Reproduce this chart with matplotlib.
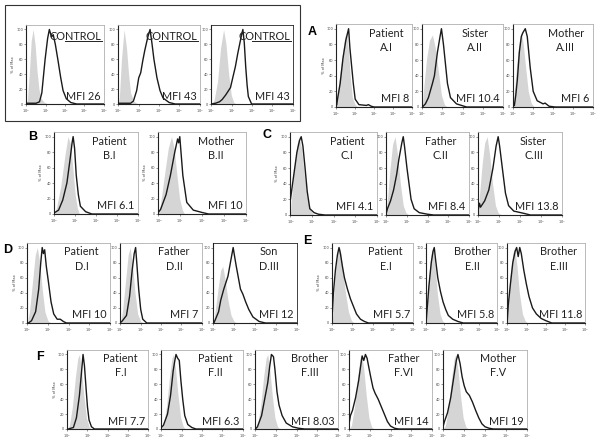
import matplotlib
matplotlib.use("Agg")
import matplotlib.pyplot as plt
from matplotlib.patches import Rectangle
from matplotlib.lines import Line2D
import numpy as np

W, H = 600, 443

# ---------------- data: (log10 fluorescence, % of max) vertices ----------------
ctrl1_iso = [(0, 0), (0.05, 5), (0.15, 40), (0.25, 85), (0.35, 100), (0.45, 80), (0.55, 45), (0.65, 20), (0.75, 8), (0.9, 3), (1.1, 0)]
ctrl1_cell = [(0, 1), (0.5, 1), (0.68, 3), (0.8, 15), (0.97, 60), (1.1, 88), (1.19, 100), (1.3, 90), (1.39, 93), (1.5, 80), (1.64, 58), (1.78, 35), (1.9, 18), (2.07, 7), (2.3, 2), (2.6, 0), (4, 0)]
ctrl2_iso = [(0, 0), (0.05, 10), (0.15, 60), (0.28, 100), (0.4, 75), (0.5, 40), (0.6, 15), (0.75, 4), (0.95, 0)]
ctrl2_cell = [(0, 1), (0.6, 1), (0.74, 4), (0.9, 18), (1.0, 35), (1.1, 42), (1.2, 58), (1.3, 72), (1.45, 90), (1.56, 100), (1.65, 82), (1.75, 60), (1.9, 35), (2.05, 18), (2.2, 8), (2.5, 2), (2.8, 0), (4, 0)]
ctrl3_iso = [(0, 0), (0.13, 5), (0.3, 30), (0.45, 75), (0.6, 100), (0.72, 80), (0.85, 40), (0.98, 12), (1.1, 2), (1.25, 0)]
ctrl3_cell = [(0, 0), (0.2, 1), (0.4, 3), (0.53, 6), (0.7, 12), (0.94, 22), (1.05, 35), (1.18, 50), (1.3, 68), (1.39, 80), (1.48, 92), (1.55, 100), (1.62, 82), (1.69, 50), (1.76, 25), (1.82, 10), (1.98, 0), (4, 0)]

A1_iso = [(0, 0), (0.05, 15), (0.15, 35), (0.3, 65), (0.45, 90), (0.55, 95), (0.65, 70), (0.75, 35), (0.85, 12), (1.0, 3), (1.15, 0)]
A1_cell = [(0.02, 3), (0.06, 10), (0.2, 30), (0.35, 62), (0.5, 85), (0.65, 100), (0.72, 75), (0.8, 55), (0.9, 30), (1.0, 10), (1.2, 3), (1.6, 2), (1.7, 3), (1.85, 1), (2.0, 0), (4, 0)]
A2_iso = [(0, 0), (0.05, 20), (0.2, 60), (0.35, 85), (0.5, 92), (0.65, 75), (0.8, 45), (0.95, 15), (1.1, 3), (1.25, 0)]
A2_cell = [(0, 0), (0.15, 4), (0.3, 12), (0.5, 30), (0.6, 40), (0.75, 70), (0.88, 90), (0.95, 100), (1.05, 80), (1.15, 55), (1.25, 30), (1.4, 12), (1.7, 4), (2.2, 0), (4, 0)]
A3_iso = [(0, 0), (0.05, 20), (0.15, 50), (0.3, 85), (0.4, 95), (0.5, 80), (0.62, 50), (0.75, 20), (0.9, 5), (1.05, 0)]
A3_cell = [(0.05, 2), (0.12, 15), (0.2, 35), (0.3, 70), (0.4, 90), (0.48, 95), (0.6, 100), (0.7, 90), (0.85, 50), (1.0, 20), (1.2, 8), (1.5, 4), (1.6, 5), (1.8, 1), (2.1, 0), (4, 0)]

B1_iso = [(0, 0), (0.1, 8), (0.3, 35), (0.5, 75), (0.65, 100), (0.78, 90), (0.9, 55), (1.0, 25), (1.1, 8), (1.2, 0)]
B1_cell = [(0.02, 2), (0.2, 5), (0.4, 18), (0.6, 40), (0.75, 70), (0.85, 92), (0.9, 100), (0.97, 85), (1.05, 50), (1.15, 25), (1.25, 10), (1.5, 3), (1.8, 0), (4, 0)]
B2_iso = [(0, 0), (0.08, 10), (0.25, 45), (0.45, 85), (0.6, 100), (0.72, 85), (0.85, 50), (0.97, 20), (1.1, 5), (1.2, 0)]
B2_cell = [(0.02, 3), (0.1, 6), (0.35, 25), (0.55, 50), (0.75, 80), (0.88, 97), (0.93, 92), (0.98, 100), (1.05, 75), (1.12, 50), (1.3, 15), (1.6, 5), (2.0, 2), (2.3, 0), (4, 0)]

C1_iso = [(0, 0), (0.05, 20), (0.15, 55), (0.3, 90), (0.4, 100), (0.52, 85), (0.65, 50), (0.8, 20), (0.95, 5), (1.1, 0)]
C1_cell = [(0.0, 20), (0.1, 40), (0.2, 60), (0.3, 80), (0.42, 95), (0.5, 100), (0.58, 88), (0.68, 60), (0.78, 30), (0.9, 8), (1.1, 3), (1.3, 1), (1.6, 0), (4, 0)]
C2_iso = [(0, 0), (0.05, 20), (0.18, 60), (0.3, 90), (0.42, 100), (0.55, 75), (0.68, 40), (0.82, 12), (0.95, 3), (1.1, 0)]
C2_cell = [(0.0, 3), (0.05, 8), (0.2, 18), (0.35, 32), (0.5, 52), (0.6, 70), (0.75, 92), (0.82, 100), (0.88, 88), (1.0, 60), (1.1, 40), (1.2, 20), (1.35, 8), (1.6, 3), (2.0, 1), (2.3, 0), (4, 0)]
C3_iso = [(0, 0), (0.05, 25), (0.18, 65), (0.3, 92), (0.42, 100), (0.55, 75), (0.68, 40), (0.82, 12), (0.95, 3), (1.1, 0)]
C3_cell = [(0.0, 8), (0.05, 15), (0.1, 10), (0.3, 18), (0.5, 32), (0.7, 60), (0.85, 88), (0.95, 100), (1.02, 88), (1.15, 60), (1.3, 28), (1.45, 12), (1.7, 5), (2.2, 2), (2.5, 0), (4, 0)]

D1_iso = [(0, 0), (0.1, 15), (0.25, 55), (0.38, 90), (0.48, 100), (0.6, 80), (0.72, 45), (0.85, 15), (1.0, 3), (1.15, 0)]
D1_cell = [(0.05, 0), (0.2, 3), (0.4, 15), (0.55, 45), (0.65, 80), (0.72, 100), (0.78, 92), (0.84, 97), (0.92, 75), (1.02, 55), (1.15, 28), (1.28, 12), (1.45, 5), (1.6, 5), (1.75, 2), (1.9, 0), (4, 0)]
D2_iso = [(0, 0), (0.1, 15), (0.25, 55), (0.38, 90), (0.48, 100), (0.6, 75), (0.72, 40), (0.85, 12), (1.0, 2), (1.15, 0)]
D2_cell = [(0.02, 1), (0.1, 3), (0.3, 10), (0.45, 35), (0.58, 70), (0.68, 92), (0.75, 100), (0.82, 75), (0.9, 45), (1.0, 18), (1.1, 5), (1.3, 0), (4, 0)]
D3_iso = [(0, 0), (0.08, 15), (0.22, 45), (0.35, 70), (0.45, 75), (0.58, 55), (0.7, 30), (0.85, 10), (1.0, 2), (1.15, 0)]
D3_cell = [(0.02, 0), (0.1, 5), (0.25, 15), (0.35, 30), (0.5, 45), (0.7, 62), (0.85, 85), (0.95, 100), (1.02, 88), (1.1, 75), (1.2, 60), (1.3, 45), (1.42, 38), (1.55, 28), (1.7, 18), (1.9, 8), (2.2, 2), (2.5, 0), (4, 0)]

E1_iso = [(0, 0), (0.05, 30), (0.15, 70), (0.28, 95), (0.38, 100), (0.5, 75), (0.65, 40), (0.8, 15), (0.95, 3), (1.1, 0)]
E1_cell = [(0.0, 15), (0.05, 40), (0.15, 70), (0.25, 90), (0.33, 100), (0.4, 92), (0.5, 75), (0.6, 60), (0.75, 45), (0.9, 32), (1.05, 22), (1.2, 12), (1.4, 5), (1.6, 2), (1.8, 0), (4, 0)]
E2_iso = [(0, 0), (0.05, 25), (0.15, 65), (0.28, 92), (0.38, 100), (0.5, 75), (0.62, 40), (0.78, 12), (0.92, 3), (1.05, 0)]
E2_cell = [(0.0, 5), (0.05, 20), (0.15, 50), (0.28, 80), (0.38, 95), (0.45, 100), (0.52, 85), (0.65, 60), (0.8, 42), (0.95, 28), (1.1, 18), (1.25, 10), (1.5, 5), (1.8, 2), (2.1, 0), (4, 0)]
E3_iso = [(0, 0), (0.05, 25), (0.15, 65), (0.28, 92), (0.38, 100), (0.5, 75), (0.62, 40), (0.78, 12), (0.92, 3), (1.05, 0)]
E3_cell = [(0.0, 5), (0.05, 25), (0.15, 50), (0.28, 80), (0.4, 95), (0.48, 100), (0.56, 88), (0.64, 100), (0.72, 92), (0.85, 70), (0.98, 52), (1.12, 35), (1.3, 20), (1.5, 12), (1.75, 6), (2.0, 3), (2.3, 0), (4, 0)]

F1_iso = [(0, 0), (0.1, 5), (0.25, 30), (0.4, 70), (0.52, 95), (0.6, 100), (0.7, 80), (0.82, 45), (0.95, 15), (1.08, 3), (1.2, 0)]
F1_cell = [(0.05, 0), (0.3, 2), (0.45, 15), (0.6, 45), (0.7, 75), (0.78, 100), (0.85, 85), (0.93, 55), (1.0, 30), (1.08, 12), (1.2, 3), (1.35, 0), (4, 0)]
F2_iso = [(0, 0), (0.1, 5), (0.25, 30), (0.4, 70), (0.52, 95), (0.6, 100), (0.7, 80), (0.82, 45), (0.95, 15), (1.08, 3), (1.2, 0)]
F2_cell = [(0.0, 2), (0.1, 5), (0.3, 20), (0.45, 45), (0.58, 78), (0.65, 90), (0.72, 100), (0.8, 95), (0.88, 92), (0.96, 65), (1.05, 40), (1.15, 18), (1.3, 6), (1.5, 2), (1.7, 0), (4, 0)]
F3_iso = [(0, 0), (0.1, 5), (0.25, 30), (0.4, 70), (0.52, 95), (0.6, 100), (0.7, 80), (0.82, 45), (0.95, 15), (1.08, 3), (1.2, 0)]
F3_cell = [(0.0, 0), (0.1, 3), (0.3, 18), (0.45, 40), (0.6, 62), (0.7, 85), (0.78, 100), (0.88, 97), (0.95, 80), (1.05, 50), (1.15, 32), (1.3, 18), (1.5, 8), (1.8, 3), (2.1, 1), (2.4, 0), (4, 0)]
F4_iso = [(0, 0), (0.1, 5), (0.25, 30), (0.4, 70), (0.52, 95), (0.6, 100), (0.7, 80), (0.82, 45), (0.95, 15), (1.08, 3), (1.2, 0)]
F4_cell = [(0.0, 10), (0.05, 18), (0.15, 25), (0.3, 42), (0.45, 65), (0.55, 85), (0.62, 98), (0.7, 92), (0.78, 100), (0.86, 95), (0.95, 82), (1.05, 68), (1.15, 55), (1.25, 48), (1.4, 40), (1.55, 30), (1.7, 20), (1.85, 10), (2.0, 4), (2.2, 1), (2.4, 0), (4, 0)]
F5_iso = [(0, 0), (0.1, 5), (0.25, 30), (0.4, 70), (0.52, 95), (0.6, 100), (0.7, 80), (0.82, 45), (0.95, 15), (1.08, 3), (1.2, 0)]
F5_cell = [(0.0, 5), (0.05, 10), (0.2, 22), (0.35, 42), (0.5, 70), (0.62, 92), (0.7, 100), (0.8, 88), (0.9, 70), (1.0, 58), (1.1, 50), (1.25, 45), (1.4, 36), (1.55, 25), (1.7, 15), (1.85, 7), (2.0, 3), (2.2, 1), (2.4, 0), (4, 0)]

x_ticks = [0, 1, 2, 3, 4]
x_tick_labels = [r"$10^{0}$", r"$10^{1}$", r"$10^{2}$", r"$10^{3}$", r"$10^{4}$"]
y_ticks = [0, 20, 40, 60, 80, 100]

mfi_labels = ["MFI 26", "MFI 43", "MFI 43", "MFI 8", "MFI 10.4", "MFI 6",
              "MFI 6.1", "MFI 10", "MFI 4.1", "MFI 8.4", "MFI 13.8",
              "MFI 10", "MFI 7", "MFI 12", "MFI 5.7", "MFI 5.8", "MFI 11.8",
              "MFI 7.7", "MFI 6.3", "MFI 8.03", "MFI 14", "MFI 19"]
subject_labels = ["CONTROL", "CONTROL", "CONTROL",
                  "Patient\nA.I", "Sister\nA.II", "Mother\nA.III",
                  "Patient\nB.I", "Mother\nB.II",
                  "Patient\nC.I", "Father\nC.II", "Sister\nC.III",
                  "Patient\nD.I", "Father\nD.II", "Son\nD.III",
                  "Patient\nE.I", "Brother\nE.II", "Brother\nE.III",
                  "Patient\nF.I", "Patient\nF.II", "Brother\nF.III", "Father\nF.VI", "Mother\nF.V"]
iso_curves = [ctrl1_iso, ctrl2_iso, ctrl3_iso, A1_iso, A2_iso, A3_iso, B1_iso, B2_iso,
              C1_iso, C2_iso, C3_iso, D1_iso, D2_iso, D3_iso, E1_iso, E2_iso, E3_iso,
              F1_iso, F2_iso, F3_iso, F4_iso, F5_iso]
cell_curves = [ctrl1_cell, ctrl2_cell, ctrl3_cell, A1_cell, A2_cell, A3_cell, B1_cell, B2_cell,
               C1_cell, C2_cell, C3_cell, D1_cell, D2_cell, D3_cell, E1_cell, E2_cell, E3_cell,
               F1_cell, F2_cell, F3_cell, F4_cell, F5_cell]

# ---------------- layout (pixel boxes: x1, ytop, x2, ybottom) ----------------
boxes = [(26, 25, 104, 104), (118, 25, 200, 104), (211, 25, 293, 104),
         (336, 24, 412, 107), (422, 24, 503, 107), (513, 24, 593, 107),
         (54, 132, 138, 214), (158, 132, 246, 214),
         (290, 132, 377, 215), (386, 132, 469, 215), (478, 132, 562, 215),
         (27, 243, 110, 323), (120, 243, 202, 323), (213, 243, 297, 323),
         (332, 243, 413, 323), (426, 243, 497, 323), (507, 243, 585, 323),
         (67, 350, 148, 429), (161, 350, 243, 429), (255, 350, 338, 429),
         (349, 350, 432, 429), (443, 350, 527, 429)]
dark_frame = {2, 13}
with_ylabel = {0, 3, 6, 7, 8, 11, 14, 17}

FONT = ["Lato", "DejaVu Sans"]

fig = plt.figure(figsize=(W / 100, H / 100), dpi=100)

def fig_rect(b):
    x1, y1, x2, y2 = b
    return [x1 / W, 1 - y2 / H, (x2 - x1) / W, (y2 - y1) / H]

for i, b in enumerate(boxes):
    ax = fig.add_axes(fig_rect(b))
    iso = np.array(iso_curves[i], dtype=float)
    cell = np.array(cell_curves[i], dtype=float)
    ax.fill_between(iso[:, 0], 0, iso[:, 1], color="#d5d5d5", lw=0, zorder=1)
    ax.plot(cell[:, 0], cell[:, 1], color="#1a1a1a", lw=1.0, zorder=3)
    ax.set_xlim(-0.02, 4.02)
    ax.set_ylim(0, 106)
    ax.set_xticks(x_ticks)
    ax.set_xticklabels(x_tick_labels)
    ax.set_yticks(y_ticks)
    ax.tick_params(axis="both", labelsize=2.5, length=1.2, width=0.4, pad=1.0, colors="#444444")
    if i in with_ylabel:
        ax.set_ylabel("% of Max", fontsize=2.6, labelpad=0.5, color="#444444")
    for s in ax.spines.values():
        s.set_linewidth(0.6)
        s.set_color("#222222" if i in dark_frame else "#b0b0b0")
    ax.spines["left"].set_color("#222222")
    ax.spines["bottom"].set_color("#222222")
    ax.spines["left"].set_linewidth(0.8)
    ax.spines["bottom"].set_linewidth(0.8)
    if i < 3:
        ax.text(0.97, 0.86, subject_labels[i], transform=ax.transAxes, ha="right", va="center",
                fontsize=7.8, family=FONT, color="#222222")
        ax.add_line(Line2D([0.5, 0.97], [0.795, 0.795], transform=ax.transAxes,
                           color="#222222", lw=0.7))
    else:
        ax.text(0.66, 0.80, subject_labels[i], transform=ax.transAxes, ha="center", va="center",
                fontsize=7.8, family=FONT, color="#222222", linespacing=1.35)
    ax.text(0.96, 0.1, mfi_labels[i], transform=ax.transAxes, ha="right", va="center",
            fontsize=7.8, family=FONT, color="#222222")

# outer frame around control panels
fig.patches.append(Rectangle((5 / W, 1 - 121 / H), 295 / W, 116 / H, transform=fig.transFigure,
                             fill=False, edgecolor="#333333", lw=0.8))

letters = [("A", 312, 32), ("B", 33, 137), ("C", 267, 135), ("D", 8, 250), ("E", 307, 241), ("F", 40, 357)]
for t, x, y in letters:
    fig.text(x / W, 1 - y / H, t, ha="center", va="center", fontsize=9, fontweight="bold",
             family=["Liberation Sans", "DejaVu Sans"])

fig.savefig("out.png", dpi=100)
